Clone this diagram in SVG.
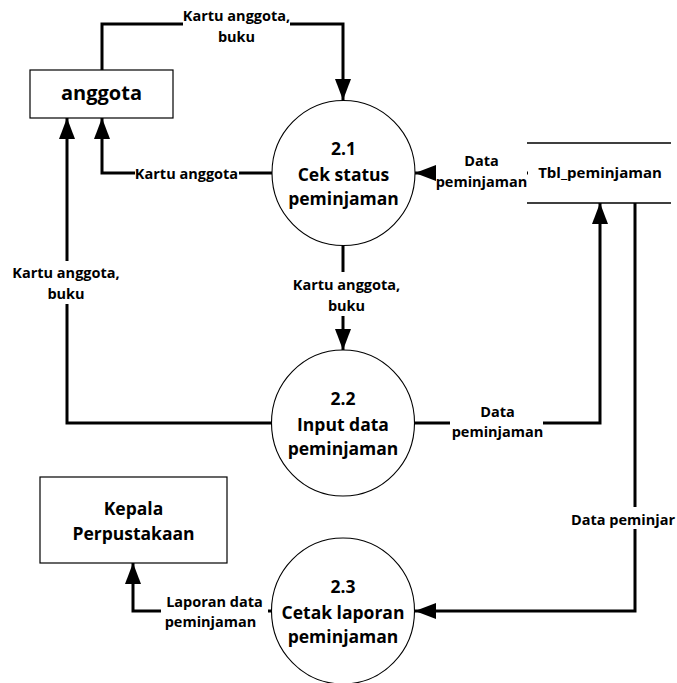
<svg xmlns="http://www.w3.org/2000/svg" width="677" height="683" viewBox="0 0 677 683">
  <defs>
    <marker id="arrow" markerUnits="userSpaceOnUse" markerWidth="21" markerHeight="16" refX="21" refY="8" orient="auto">
      <path d="M0,0 L21,8 L0,16 z" fill="#000"/>
    </marker>
    <style>
      .box { fill: #fff; stroke: #000; stroke-width: 1.2; }
      .proc { fill: #fff; stroke: #000; stroke-width: 1.1; }
      .store { stroke: #000; stroke-width: 1.3; fill: none; }
      .flow { fill: none; stroke: #000; stroke-width: 3; marker-end: url(#arrow); }
      .flow-plain { fill: none; stroke: #000; stroke-width: 3; }
      .t { font-family: "Open Sans", "Liberation Sans", sans-serif; font-weight: 700; fill: #000; text-anchor: middle; }
      .big { font-size: 20px; }
      .pt { font-size: 17.5px; }
      .lbl { font-size: 14.5px; }
      .st { font-size: 15px; }
      .bg { fill: #fff; }
    </style>
  </defs>
  <rect width="677" height="683" fill="#fff"/>

  <g id="connectors">
    <path id="c1" class="flow" d="M102,70 V24 H343 V100"/>
    <path id="c2" class="flow" d="M272,173 H102 V118"/>
    <path id="c3" class="flow" d="M272,423 H67 V118"/>
    <path id="c4" class="flow" d="M343,246 V350"/>
    <path id="c5" class="flow" d="M528,173 H415"/>
    <path id="c6" class="flow" d="M415,423 H600 V203"/>
    <path id="c7" class="flow" d="M635,203 V611 H415"/>
    <path id="c8" class="flow" d="M272,611 H133 V563"/>
  </g>

  <g id="labels">
    <g id="l1">
      <rect class="bg" x="183" y="8" width="107" height="38"/>
      <text class="t lbl" x="236.5" y="21">Kartu anggota,</text>
      <text class="t lbl" x="236.5" y="42">buku</text>
    </g>
    <g id="l2">
      <rect class="bg" x="135" y="164" width="104" height="20"/>
      <text class="t lbl" x="186.5" y="179">Kartu anggota</text>
    </g>
    <g id="l3">
      <rect class="bg" x="12" y="261" width="108" height="43"/>
      <text class="t lbl" x="66" y="278">Kartu anggota,</text>
      <text class="t lbl" x="66" y="299">buku</text>
    </g>
    <g id="l4">
      <rect class="bg" x="293" y="272" width="108" height="44"/>
      <text class="t lbl" x="346.5" y="290">Kartu anggota,</text>
      <text class="t lbl" x="346.5" y="311">buku</text>
    </g>
    <g id="l5">
      <rect class="bg" x="436" y="153" width="91" height="40"/>
      <text class="t lbl" x="481.5" y="166">Data</text>
      <text class="t lbl" x="481.5" y="187">peminjaman</text>
    </g>
    <g id="l6">
      <rect class="bg" x="450" y="404" width="93" height="38"/>
      <text class="t lbl" x="497.5" y="417">Data</text>
      <text class="t lbl" x="497.5" y="437">peminjaman</text>
    </g>
    <g id="l7">
      <rect class="bg" x="571" y="507" width="95" height="22"/>
      <text class="t lbl" x="571" y="525" style="text-anchor:start">Data peminjar</text>
    </g>
    <g id="l8">
      <rect class="bg" x="161" y="594" width="107" height="38"/>
      <text class="t lbl" x="214.5" y="607">Laporan data</text>
      <text class="t lbl" x="210.5" y="627">peminjaman</text>
    </g>
  </g>

  <g id="anggota">
    <rect class="box" x="30" y="70" width="143" height="48"/>
    <text class="t big" x="101.5" y="100">anggota</text>
  </g>

  <g id="kepala">
    <rect class="box" x="40" y="477" width="187" height="86"/>
    <text class="t pt" x="133.5" y="515">Kepala</text>
    <text class="t pt" x="133.5" y="540">Perpustakaan</text>
  </g>

  <g id="p21">
    <ellipse class="proc" cx="343.5" cy="173" rx="71.5" ry="72.5"/>
    <text class="t pt" x="343.5" y="155">2.1</text>
    <text class="t pt" x="343.5" y="181">Cek status</text>
    <text class="t pt" x="343.5" y="205">peminjaman</text>
  </g>

  <g id="p22">
    <ellipse class="proc" cx="343" cy="423" rx="71.5" ry="73"/>
    <text class="t pt" x="343" y="405">2.2</text>
    <text class="t pt" x="343" y="431">Input data</text>
    <text class="t pt" x="343" y="455">peminjaman</text>
  </g>

  <g id="p23">
    <ellipse class="proc" cx="343" cy="611" rx="71.5" ry="73"/>
    <text class="t pt" x="343" y="593">2.3</text>
    <text class="t pt" x="343" y="619">Cetak laporan</text>
    <text class="t pt" x="343" y="643">peminjaman</text>
  </g>

  <g id="tbl_peminjaman">
    <path class="store" d="M527,143 H671 M527,203 H671"/>
    <text class="t st" x="600" y="178">Tbl_peminjaman</text>
  </g>
</svg>
